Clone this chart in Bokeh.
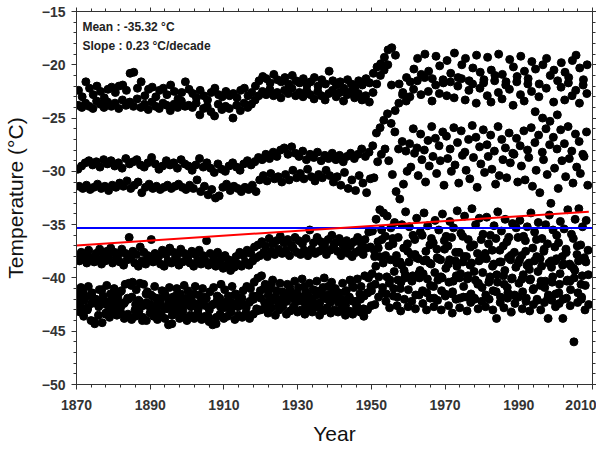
from bokeh.plotting import figure
from bokeh.models import (ColumnDataSource, Range1d, LinearAxis, FixedTicker, Label,
                          CustomJSTickFormatter)
from bokeh.embed import file_html
from bokeh.resources import INLINE

years = list(range(1870, 2009))

x_major_ticks = [1870, 1890, 1910, 1930, 1950, 1970, 1990, 2010]
x_minor_ticks = list(range(1870, 2011, 4))
y_major_ticks = [-50, -45, -40, -35, -30, -25, -20, -15]
y_minor_ticks = list(range(-50, -14, 1))

# month of each row (monthly temperatures; each row = one calendar month)
row_months = {"top1": 7, "top2": 6, "mid1": 5, "mid2": 9, "low1": 4,
              "low2": 10, "bot1": 3, "bot2": 1, "bot3": 12, "bot4": 11}

top1 = [
    -22.4, -23.0, -21.6, -22.2, -22.8, -22.0, -22.5, -23.1, -22.3, -22.1,
    -22.6, -22.0, -21.9, -22.4, -20.8, -20.7, -22.2, -21.6, -22.9, -22.3,
    -22.1, -23.0, -22.4, -22.2, -22.8, -21.9, -22.5, -23.2, -22.6, -21.6,
    -22.3, -22.7, -23.1, -22.4, -22.9, -23.3, -22.6, -22.2, -22.8, -23.0,
    -22.5, -22.9, -22.7, -23.1, -22.4, -22.2, -22.9, -22.6, -22.0, -21.5,
    -21.1, -21.3, -21.7, -20.9, -21.4, -21.6, -21.2, -21.8, -21.0, -21.5,
    -21.7, -21.3, -21.9, -21.6, -21.2, -22.0, -21.4, -21.8, -20.6, -21.5,
    -21.9, -21.6, -22.2, -21.4, -21.8, -22.1, -21.5, -21.9, -21.3, -21.7,
    -20.8, -20.2, -19.9, -19.3, -18.6, -18.4, -19.1, -21.8, -22.6, -21.2,
    -21.6, -20.4, -19.4, -20.9, -19.0, -20.6, -21.3, -19.2, -20.1, -21.7,
    -19.6, -20.8, -18.9, -21.2, -20.0, -19.4, -21.5, -20.3, -19.1, -20.7,
    -21.4, -19.3, -20.5, -21.0, -19.0, -20.9, -21.6, -19.5, -20.2, -21.1,
    -19.2, -20.6, -21.3, -19.7, -20.4, -21.8, -20.0, -19.4, -21.0, -20.5,
    -21.5, -19.8, -20.7, -21.2, -19.6, -19.1, -20.3, -21.4, -20.0,
]
top2 = [
    -23.8, -24.0, -23.6, -23.9, -24.1, -23.4, -23.7, -24.0, -23.5, -23.9,
    -23.6, -24.1, -23.3, -23.8, -23.5, -23.9, -23.2, -24.0, -23.7, -24.2,
    -23.5, -23.9, -24.1, -23.6, -23.8, -24.3, -23.7, -24.0, -23.4, -23.9,
    -23.8, -24.0, -23.6, -24.7, -24.1, -23.9, -24.4, -24.8, -23.7, -24.2,
    -23.9, -24.1, -25.0, -23.8, -24.3, -23.6, -24.0, -23.7, -23.3, -22.9,
    -22.5, -22.8, -22.3, -22.9, -22.6, -23.1, -22.4, -22.7, -22.2, -22.9,
    -22.6, -23.0, -22.4, -22.8, -23.2, -22.5, -22.9, -23.3, -22.7, -22.4,
    -23.0, -22.6, -23.4, -22.8, -22.5, -23.1, -22.7, -23.3, -22.9, -23.5,
    -22.6, -21.8, -21.0, -20.5, -20.0, -21.9, -24.3, -23.6, -22.8, -23.4,
    -23.0, -22.3, -21.5, -22.8, -21.2, -22.5, -23.4, -21.9, -22.7, -21.4,
    -22.9, -21.6, -23.1, -22.0, -21.3, -23.3, -22.4, -21.8, -23.6, -22.2,
    -21.7, -22.9, -23.5, -21.5, -22.6, -23.2, -21.9, -22.3, -23.8, -21.6,
    -22.8, -23.4, -21.8, -22.5, -24.4, -23.0, -25.0, -22.2, -25.3, -23.5,
    -24.7, -22.1, -23.3, -21.7, -22.9, -22.4, -23.6, -21.9, -22.7,
]
mid1 = [
    -29.8, -29.5, -29.2, -29.0, -29.4, -29.1, -29.6, -28.9, -29.3, -29.0,
    -29.5, -29.2, -29.7, -28.8, -29.3, -29.1, -28.9, -29.4, -29.6, -29.2,
    -28.7, -29.3, -29.8, -29.5, -29.0, -29.4, -29.2, -29.7, -28.9, -29.3,
    -29.5, -29.9, -29.4, -28.8, -29.6, -29.2, -29.7, -30.1, -29.3, -29.8,
    -30.0, -29.5, -29.2, -29.6, -29.9, -29.3, -29.0, -29.4, -29.1, -28.7,
    -28.9, -28.4, -28.8, -28.2, -28.6, -28.0, -27.8, -28.4, -27.7, -28.3,
    -28.6, -28.1, -28.9, -28.4, -28.7, -28.2, -29.0, -28.5, -28.8, -28.3,
    -28.9, -28.5, -29.1, -28.6, -28.3, -28.8, -28.4, -27.9, -28.6, -28.2,
    -27.6, -26.4, -25.9, -25.2, -24.6, -25.5, -26.3, -27.9, -27.2, -28.1,
    -27.4, -26.0, -27.8, -26.5, -28.0, -27.1, -25.8, -26.9, -27.6, -26.3,
    -26.7, -27.9, -25.9, -27.3, -26.2, -28.2, -27.0, -25.7, -26.8, -27.7,
    -26.1, -27.5, -26.6, -28.1, -25.8, -27.0, -27.8, -26.4, -28.3, -26.9,
    -27.6, -26.2, -28.0, -25.9, -27.3, -26.6, -28.2, -26.0, -27.5, -26.8,
    -27.9, -26.1, -27.4, -25.8, -28.1, -26.5, -27.2, -28.4, -26.3,
]
mid2 = [
    -31.4, -31.6, -31.3, -31.7, -31.5, -31.2, -31.6, -31.4, -31.8, -31.3,
    -31.5, -31.1, -31.4, -30.9, -31.6, -31.3, -31.0, -32.0, -31.5, -31.2,
    -31.6, -31.4, -31.7, -31.5, -31.3, -31.6, -31.4, -31.2, -31.5, -31.7,
    -31.3, -31.6, -30.8, -31.9, -31.4, -32.2, -31.7, -32.5, -32.3, -31.5,
    -31.2, -31.8, -31.4, -31.6, -31.9, -31.5, -31.7, -31.3, -31.9, -30.8,
    -30.4, -30.9, -30.2, -30.7, -30.5, -31.0, -30.3, -30.8, -29.9, -30.6,
    -30.2, -30.7, -29.8, -30.5, -30.9, -30.3, -30.6, -29.9, -30.4, -31.0,
    -30.5, -31.3, -30.1, -31.6, -30.8, -31.8, -30.4, -31.1, -32.0, -30.7,
    -30.6, -29.1, -28.4, -27.9, -29.0, -30.3, -31.9, -32.6, -31.2, -30.0,
    -29.6, -28.3, -30.4, -28.9, -31.0, -29.5, -28.6, -30.2, -29.0, -31.3,
    -28.8, -30.0, -29.4, -31.1, -28.5, -29.9, -30.7, -28.7, -31.5, -29.3,
    -30.1, -28.6, -29.8, -31.2, -30.4, -28.9, -30.6, -29.2, -28.4, -31.0,
    -29.5, -30.8, -28.7, -31.4, -29.9, -32.0, -28.9, -30.3, -33.0, -29.7,
    -31.6, -29.0, -30.5, -28.8, -31.1, -29.6, -30.2, -28.6, -31.3,
]
low1 = [
    -38.0, -37.6, -37.9, -37.4, -38.1, -37.7, -37.3, -37.8, -37.5, -37.2,
    -37.6, -37.9, -37.3, -37.7, -36.2, -37.5, -37.8, -37.1, -37.6, -37.9,
    -36.4, -37.7, -38.0, -37.4, -37.8, -37.2, -37.6, -37.9, -37.3, -37.7,
    -38.0, -37.5, -37.8, -37.4, -37.9, -36.5, -37.7, -38.1, -37.6, -38.2,
    -37.9, -38.3, -38.5, -38.0, -37.6, -37.9, -37.4, -37.7, -37.1, -36.9,
    -36.6, -37.0, -36.3, -36.8, -36.5, -36.1, -36.7, -36.4, -36.9, -36.2,
    -36.5, -36.8, -36.3, -35.5, -36.7, -36.2, -36.6, -36.9, -36.4, -36.0,
    -36.7, -36.3, -36.9, -36.5, -37.0, -36.6, -36.2, -36.8, -36.4, -35.7,
    -35.6, -34.5, -33.6, -33.9, -34.2, -35.3, -34.8, -36.2, -35.0, -33.8,
    -35.2, -36.0, -34.4, -35.7, -33.9, -35.1, -36.3, -34.6, -35.5, -34.0,
    -36.1, -34.7, -35.3, -33.7, -35.8, -34.2, -36.4, -33.5, -35.0, -34.4,
    -35.9, -34.3, -36.0, -35.1, -33.8, -35.6, -34.5, -36.2, -34.9, -35.3,
    -34.6, -36.1, -35.2, -33.9, -35.7, -34.8, -36.3, -35.0, -34.1, -35.5,
    -36.0, -34.7, -35.4, -33.6, -35.9, -34.5, -33.5, -35.2, -34.6,
]
low2 = [
    -38.4, -38.2, -38.6, -38.1, -38.5, -38.3, -38.7, -38.4, -38.0, -38.6,
    -38.2, -38.5, -38.8, -38.3, -38.0, -38.6, -38.9, -38.4, -38.7, -38.2,
    -38.5, -38.3, -38.7, -38.9, -38.4, -38.6, -38.2, -38.8, -38.5, -38.3,
    -38.6, -38.9, -38.4, -38.7, -38.3, -38.8, -38.5, -38.9, -38.6, -39.1,
    -38.8, -39.3, -39.0, -38.7, -38.9, -38.5, -38.8, -38.4, -38.1, -37.9,
    -37.6, -38.0, -37.5, -37.8, -37.3, -37.7, -37.4, -37.9, -37.2, -37.6,
    -37.8, -37.4, -37.9, -37.3, -37.7, -37.5, -37.2, -37.8, -37.4, -37.0,
    -37.5, -37.9, -37.3, -37.7, -38.0, -37.6, -37.4, -37.8, -37.2, -37.1,
    -37.4, -36.6, -35.5, -36.1, -37.0, -36.3, -37.9, -38.5, -37.2, -36.8,
    -37.8, -36.4, -38.2, -36.0, -37.5, -38.6, -36.7, -37.3, -38.3, -36.5,
    -37.0, -36.2, -38.4, -37.6, -36.1, -38.0, -38.8, -36.9, -37.7, -36.4,
    -38.1, -36.8, -37.4, -36.3, -38.5, -37.0, -36.6, -38.3, -37.6, -36.2,
    -37.9, -36.5, -38.6, -37.2, -36.4, -38.2, -37.5, -36.8, -38.4, -37.1,
    -36.7, -38.0, -37.3, -38.7, -36.3, -37.8, -36.9, -38.1, -37.4,
]
bot1 = [
    -41.5, -40.9, -41.9, -40.8, -41.4, -42.0, -41.1, -41.7, -40.7, -41.5,
    -41.0, -41.8, -41.2, -40.6, -40.5, -40.4, -41.1, -40.5, -40.6, -41.3,
    -41.6, -40.8, -41.9, -41.2, -41.7, -40.9, -41.8, -41.0, -41.5, -40.7,
    -41.2, -41.8, -40.8, -41.6, -41.0, -41.9, -41.3, -40.9, -41.7, -40.6,
    -41.1, -41.7, -40.8, -41.5, -41.9, -41.2, -40.8, -41.0, -40.4, -40.0,
    -39.8, -40.6, -41.1, -40.2, -41.2, -40.5, -41.4, -40.6, -41.3, -40.3,
    -40.9, -40.1, -41.3, -40.5, -41.1, -40.3, -41.2, -40.0, -40.8, -40.4,
    -41.0, -41.4, -40.5, -41.2, -40.2, -40.9, -40.1, -40.8, -39.8, -40.0,
    -39.6, -38.9, -38.0, -38.6, -39.9, -38.3, -39.4, -40.2, -38.8, -39.7,
    -38.5, -39.8, -38.1, -39.3, -38.4, -40.1, -38.7, -39.5, -38.2, -40.0,
    -39.1, -38.3, -40.3, -38.9, -39.6, -38.0, -39.8, -38.6, -40.2, -38.4,
    -39.5, -38.2, -39.9, -38.7, -40.4, -38.5, -39.3, -38.1, -40.0, -39.0,
    -38.3, -39.7, -38.8, -40.1, -38.4, -39.4, -38.9, -40.3, -38.6, -39.9,
    -38.2, -39.6, -38.7, -40.2, -38.9, -39.3, -38.4, -39.8, -38.5,
]
bot2 = [
    -42.3, -42.6, -42.1, -42.8, -42.4, -42.0, -42.7, -42.2, -42.5, -42.9,
    -42.4, -42.1, -42.7, -42.3, -42.0, -41.8, -42.5, -42.2, -42.6, -42.3,
    -42.5, -42.8, -42.2, -42.6, -42.9, -42.3, -42.7, -42.4, -42.1, -42.6,
    -42.2, -42.7, -42.4, -42.9, -42.3, -42.6, -43.0, -42.5, -42.2, -42.7,
    -42.4, -42.8, -42.3, -42.6, -42.1, -42.5, -42.8, -42.2, -42.0, -41.7,
    -41.9, -42.3, -41.6, -42.1, -41.8, -42.4, -41.9, -42.2, -41.7, -42.0,
    -42.2, -41.8, -42.4, -41.9, -42.1, -41.6, -42.3, -41.8, -42.0, -41.5,
    -41.9, -42.3, -42.0, -42.5, -41.8, -42.2, -42.6, -42.0, -41.7, -41.4,
    -41.2, -40.6, -39.9, -40.9, -41.5, -40.2, -41.0, -41.8, -40.4, -40.0,
    -41.1, -40.3, -41.6, -40.0, -39.6, -41.4, -40.7, -41.9, -40.2, -41.2,
    -41.7, -40.4, -41.3, -39.8, -41.9, -40.8, -40.1, -41.5, -42.0, -40.5,
    -40.9, -41.6, -40.2, -41.2, -39.7, -41.8, -40.6, -41.4, -40.1, -41.7,
    -40.5, -41.3, -41.9, -40.2, -41.0, -42.1, -40.3, -40.9, -41.6, -40.4,
    -41.5, -40.6, -42.0, -40.3, -41.1, -40.0, -41.4, -41.8, -40.7,
]
bot3 = [
    -43.2, -43.6, -43.0, -44.0, -44.3, -43.5, -44.2, -43.3, -43.7, -43.1,
    -43.5, -43.2, -43.8, -43.4, -43.9, -43.6, -43.1, -43.7, -44.0, -43.3,
    -43.6, -43.9, -43.4, -43.8, -44.4, -43.5, -43.2, -43.8, -43.6, -44.0,
    -43.5, -43.8, -43.3, -43.9, -43.6, -44.1, -44.4, -43.7, -43.4, -43.8,
    -43.6, -43.2, -43.9, -43.5, -43.7, -43.3, -43.8, -43.4, -43.1, -43.0,
    -42.9, -43.3, -42.8, -43.5, -43.0, -42.7, -43.4, -43.1, -42.8, -43.2,
    -43.0, -43.4, -42.9, -43.2, -42.7, -43.5, -43.1, -42.8, -43.3, -43.0,
    -43.2, -42.9, -43.5, -43.1, -43.4, -42.8, -43.2, -43.6, -43.0, -42.6,
    -42.5, -41.8, -41.4, -42.2, -42.8, -41.7, -42.6, -43.1, -42.0, -42.7,
    -42.2, -42.9, -41.6, -42.4, -43.0, -41.9, -42.7, -42.1, -43.0, -41.5,
    -42.6, -43.3, -42.0, -42.8, -41.8, -43.1, -42.3, -41.9, -42.9, -42.2,
    -42.7, -42.0, -43.0, -43.8, -42.3, -42.8, -41.9, -43.2, -42.4, -41.8,
    -42.9, -42.2, -43.1, -42.5, -42.0, -43.0, -42.3, -43.8, -42.1, -42.7,
    -42.4, -43.8, -41.9, -42.6, -46.0, -42.3, -42.0, -43.0, -42.5,
]
bot4 = [
    -42.0, -41.4, -42.9, -41.7, -44.1, -42.5, -41.1, -43.4, -42.2, -41.6,
    -42.8, -41.3, -42.4, -41.9, -40.7, -43.0, -42.1, -44.0, -41.5, -42.7,
    -41.8, -43.2, -42.0, -41.4, -42.9, -44.3, -41.7, -42.6, -43.1, -41.9,
    -42.4, -41.5, -43.3, -42.1, -41.8, -43.7, -42.5, -44.3, -41.9, -42.8,
    -42.2, -43.0, -41.6, -42.7, -41.9, -43.4, -42.3, -41.7, -42.9, -41.2,
    -41.0, -42.3, -40.6, -41.8, -42.5, -41.3, -42.0, -40.9, -42.7, -41.5,
    -42.1, -40.8, -41.7, -42.4, -41.2, -42.8, -40.9, -41.6, -42.3, -41.1,
    -41.8, -42.5, -41.3, -42.0, -40.7, -42.2, -41.5, -42.9, -41.4, -40.8,
    -38.0, -37.2, -36.4, -37.9, -40.5, -36.8, -38.6, -41.0, -39.3, -37.5,
    -40.2, -37.8, -39.6, -41.2, -38.3, -36.9, -40.8, -38.1, -39.9, -37.3,
    -38.7, -41.5, -37.6, -40.0, -38.5, -41.8, -37.1, -39.4, -40.6, -38.2,
    -37.7, -40.4, -38.9, -41.3, -37.4, -39.8, -40.9, -37.9, -41.6, -38.6,
    -40.1, -37.5, -39.2, -41.1, -38.0, -40.7, -37.3, -41.9, -39.0, -38.4,
    -41.4, -38.8, -37.6, -40.3, -39.1, -37.0, -40.6, -38.3, -39.7,
]

rows = {"top1": top1, "top2": top2, "mid1": mid1, "mid2": mid2, "low1": low1,
        "low2": low2, "bot1": bot1, "bot2": bot2, "bot3": bot3, "bot4": bot4}

mean_years = [1870, 2010]
mean_value = -35.32
trend_years = [1870, 2009]
trend_values = [-36.95, -33.78]

xs, ys = [], []
for name, vals in rows.items():
    m = row_months[name]
    for yr, v in zip(years, vals):
        xs.append(yr + (m - 0.5) / 12.0)
        ys.append(v)

src = ColumnDataSource(data=dict(x=xs, y=ys))

p = figure(width=596, height=447, x_range=Range1d(1870, 2010), y_range=Range1d(-50, -15),
           output_backend="svg", toolbar_location=None,
           min_border_left=71, min_border_right=0, min_border_top=11, min_border_bottom=63,
           x_axis_label="Year", y_axis_label="Temperature (\u00b0C)")
p.grid.visible = False
p.outline_line_color = "#222222"
p.outline_line_width = 1
p.background_fill_color = "white"
p.border_fill_color = "white"

p.xaxis.ticker = FixedTicker(ticks=x_major_ticks, minor_ticks=x_minor_ticks)
p.yaxis.ticker = FixedTicker(ticks=y_major_ticks, minor_ticks=y_minor_ticks)

for ax in (p.xaxis[0], p.yaxis[0]):
    ax.axis_line_color = "#333333"
    ax.major_tick_line_color = "#333333"
    ax.minor_tick_line_color = "#333333"
    ax.major_tick_out = 5
    ax.major_tick_in = 0
    ax.minor_tick_out = 3
    ax.minor_tick_in = 0
    ax.major_label_text_font = "Liberation Sans"
    ax.major_label_text_font_style = "bold"
    ax.major_label_text_font_size = "14px"
    ax.major_label_text_color = "#333333"
    ax.axis_label_text_font = "Liberation Sans"
    ax.axis_label_text_font_style = "normal"
    ax.axis_label_text_font_size = "21px"
    ax.axis_label_text_color = "#111111"

p.xaxis.major_label_standoff = 10
p.xaxis.axis_label_standoff = 9
p.yaxis.major_label_standoff = 6
p.yaxis.axis_label_standoff = 12

blank = CustomJSTickFormatter(code="return '';")
top_ax = LinearAxis(ticker=FixedTicker(ticks=x_major_ticks, minor_ticks=x_minor_ticks))
right_ax = LinearAxis(ticker=FixedTicker(ticks=y_major_ticks, minor_ticks=y_minor_ticks))
for ax in (top_ax, right_ax):
    ax.formatter = blank
    ax.axis_line_color = "#333333"
    ax.major_tick_line_color = "#333333"
    ax.minor_tick_line_color = "#333333"
    ax.major_tick_out = 4
    ax.major_tick_in = 0
    ax.minor_tick_out = 3
    ax.minor_tick_in = 0
    ax.major_label_text_font_size = "1px"
    ax.major_label_standoff = 0
    ax.axis_label = None
p.add_layout(top_ax, "above")
p.add_layout(right_ax, "right")

p.scatter("x", "y", source=src, size=8, marker="circle", fill_color="black", line_color="black")

p.line(mean_years, [mean_value, mean_value], line_color="#0000ff", line_width=2)
p.line(trend_years, trend_values, line_color="#ff0000", line_width=2)

lbl_font = "Liberation Sans"
p.add_layout(Label(x=1871.6, y=-15.8, text="Mean : -35.32 \u00b0C", text_font=lbl_font,
                   text_font_style="bold", text_font_size="12px", text_color="#222222",
                   text_baseline="top"))
p.add_layout(Label(x=1871.6, y=-17.6, text="Slope : 0.23 \u00b0C/decade", text_font=lbl_font,
                   text_font_style="bold", text_font_size="12px", text_color="#222222",
                   text_baseline="top"))

open("out.html", "w").write(file_html(p, INLINE))
